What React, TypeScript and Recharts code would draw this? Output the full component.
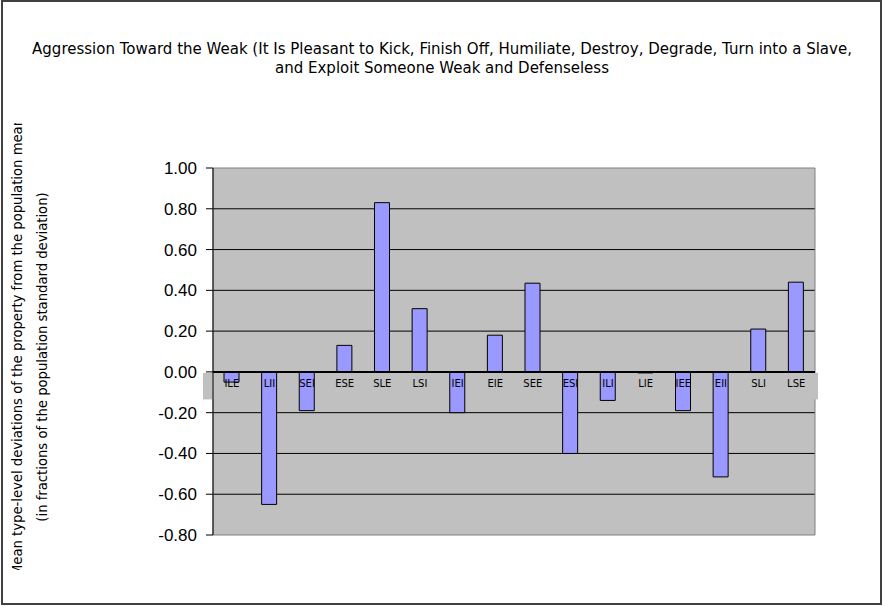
import {
  Bar,
  CartesianGrid,
  ComposedChart,
  LabelList,
  Line,
  ReferenceArea,
  ReferenceLine,
  XAxis,
  YAxis,
} from "recharts";

// socionics types, in the order of the original sheet
const types = [
  "ILE", "LII", "SEI", "ESE", "SLE", "LSI", "IEI", "EIE",
  "SEE", "ESI", "ILI", "LIE", "IEE", "EII", "SLI", "LSE",
];

// mean deviation, in fractions of the population standard deviation
const deviations = [
  -0.05, -0.65, -0.19, 0.13, 0.83, 0.31, -0.2, 0.18,
  0.435, -0.4, -0.14, -0.005, -0.19, -0.515, 0.21, 0.44,
];

const yTicks = [-0.8, -0.6, -0.4, -0.2, 0, 0.2, 0.4, 0.6, 0.8, 1.0];
const innerGrid = [-0.6, -0.4, -0.2, 0, 0.2, 0.4, 0.6, 0.8];

const titleLines = [
  "Aggression Toward the Weak (It Is Pleasant to Kick, Finish Off, Humiliate, Destroy, Degrade, Turn into a Slave,",
  "and Exploit Someone Weak and Defenseless",
];

const yTitleLines = [
  "Mean type-level deviations of the property from the population mean",
  "(in fractions of the population standard deviation)",
];

const data = types.map((t, i) => ({ type: t, value: deviations[i], axis: 0 }));

const sans = "'DejaVu Sans', sans-serif";

// excel draws the label strip a little wider than the plot area
function LabelStrip(props: any) {
  const { x, y, width, height } = props;
  return <rect x={x - 10} y={y + 1} width={width + 13} height={height - 1} fill="#C0C0C0" />;
}

export default function App() {
  return (
    <div style={{ position: "relative", width: 884, height: 607, background: "#fff" }}>
      <style>{`body{margin:0}`}</style>

      <div
        style={{
          position: "absolute",
          left: 1,
          top: 0,
          width: 877,
          height: 601,
          border: "2px solid #404040",
        }}
      />

      <div
        style={{
          position: "absolute",
          top: 40,
          left: 0,
          width: 884,
          textAlign: "center",
          fontFamily: sans,
          fontSize: 15,
          lineHeight: "19px",
          color: "#000",
        }}
      >
        {titleLines.map((l) => (
          <div key={l}>{l}</div>
        ))}
      </div>

      <ComposedChart
        width={884}
        height={607}
        data={data}
        margin={{ top: 168, right: 69, bottom: 72, left: 153 }}
        barSize={15}
      >
        <CartesianGrid
          fill="#C0C0C0"
          stroke="#000"
          vertical={false}
          horizontalValues={innerGrid}
        />
        <ReferenceArea y1={-0.8} y2={1} fill="none" stroke="#808080" strokeWidth={1} />
        <XAxis dataKey="type" hide />
        <YAxis
          type="number"
          domain={[-0.8, 1]}
          ticks={yTicks}
          interval={0}
          width={60}
          tickSize={7}
          tickMargin={9}
          axisLine={{ stroke: "#000" }}
          tickLine={{ stroke: "#000" }}
          tickFormatter={(v: number) => v.toFixed(2)}
          tick={{ fill: "#000", fontSize: 17, fontFamily: "'Liberation Sans', Arial, sans-serif" }}
        />
        <ReferenceArea y1={0} y2={-0.135} shape={<LabelStrip />} />
        <ReferenceLine y={0} stroke="#000" strokeWidth={2} />
        <Bar
          dataKey="value"
          fill="#9999FF"
          stroke="#000"
          strokeWidth={1}
          isAnimationActive={false}
        />
        <Line
          dataKey="axis"
          stroke="none"
          dot={false}
          activeDot={false}
          isAnimationActive={false}
        >
          <LabelList
            dataKey="type"
            position="bottom"
            offset={8}
            fill="#000"
            fontSize={10}
            fontFamily={sans}
          />
        </Line>
      </ComposedChart>

      <svg
        width={70}
        height={607}
        style={{ position: "absolute", left: 0, top: 0 }}
      >
        <defs>
          <clipPath id="ytitleClip">
            <rect x={0} y={123} width={70} height={447} />
          </clipPath>
        </defs>
        <g clipPath="url(#ytitleClip)" fontFamily={sans} fontSize={13.2} fill="#000">
          <text x={22} y={347} textAnchor="middle" transform="rotate(-90 22 347)">
            {yTitleLines[0]}
          </text>
          <text x={47} y={357} textAnchor="middle" transform="rotate(-90 47 357)">
            {yTitleLines[1]}
          </text>
        </g>
      </svg>
    </div>
  );
}
